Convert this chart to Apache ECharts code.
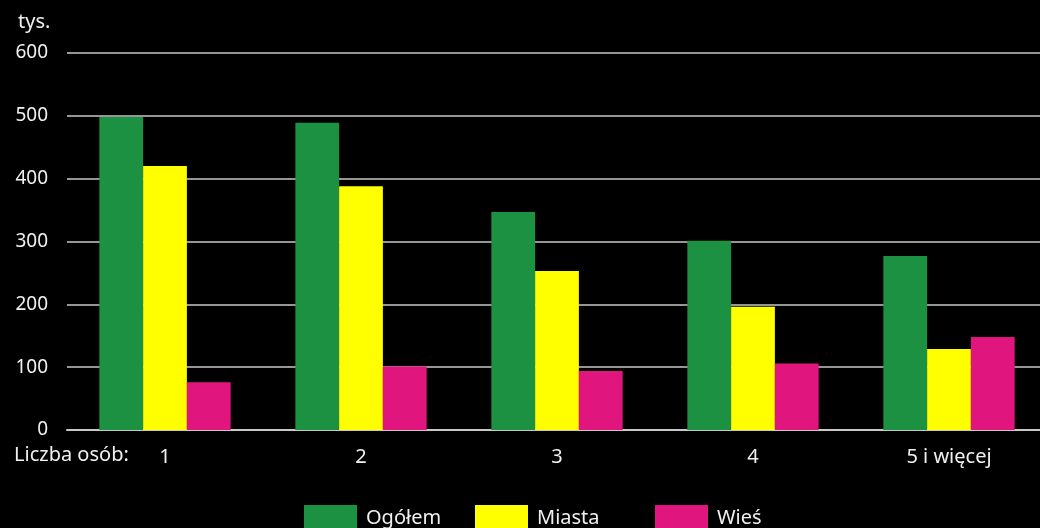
<!DOCTYPE html>
<html><head><meta charset="utf-8">
<script src="https://cdn.jsdelivr.net/npm/echarts@6/dist/echarts.min.js"></script>
<style>html,body{margin:0;padding:0;background:#000;}#c{width:1040px;height:528px;}</style>
</head><body><div id="c"></div>
<script>
const categories = ['1', '2', '3', '4', '5 i więcej'];
const ogolem = [498, 489, 347, 301, 277];
const miasta = [420, 388, 253, 196, 129];
const wies = [76, 101, 94, 106, 148];
const yTicks = [0, 100, 200, 300, 400, 500, 600];

const FONT = '"Noto Sans", "Open Sans", sans-serif';
const chart = echarts.init(document.getElementById('c'));
const legendBase = {
  top: 505, padding: 0, itemWidth: 53, itemHeight: 26, itemGap: 0, icon: 'rect',
  textStyle: { color: '#f0f0f0', fontSize: 20, fontFamily: FONT, padding: [3, 0, 0, 4] },
  selectedMode: false
};
chart.setOption({
  backgroundColor: '#000',
  animation: false,
  grid: { left: 67, top: 53, right: -7, height: 377, containLabel: false, outerBoundsMode: 'none' },
  graphic: [
    { type: 'text', left: 18, top: 12, style: { text: 'tys.', fill: '#f0f0f0', font: '20px ' + FONT } },
    { type: 'text', left: 14, top: 445, style: { text: 'Liczba osób:', fill: '#f0f0f0', font: '20px ' + FONT } }
  ],
  legend: [
    Object.assign({ left: 304, data: ['Ogółem'] }, legendBase),
    Object.assign({ left: 475, data: ['Miasta'] }, legendBase),
    Object.assign({ left: 655, data: ['Wieś'] }, legendBase)
  ],
  xAxis: {
    type: 'category', data: categories,
    axisLine: { show: true, lineStyle: { color: '#c8c8c8', width: 2 } },
    axisTick: { show: false },
    axisLabel: { color: '#f0f0f0', fontSize: 20, fontFamily: FONT, margin: 17 }
  },
  yAxis: {
    type: 'value', min: yTicks[0], max: yTicks[yTicks.length - 1], interval: 100,
    axisLine: { show: false }, axisTick: { show: false },
    axisLabel: { color: '#f0f0f0', fontSize: 19, fontFamily: FONT, margin: 19 },
    splitLine: { lineStyle: { color: '#c8c8c8', width: 1.5 } }
  },
  series: [
    { name: 'Ogółem', type: 'bar', data: ogolem, itemStyle: { color: '#1c9141' }, barGap: '0%', barCategoryGap: '33%' },
    { name: 'Miasta', type: 'bar', data: miasta, itemStyle: { color: '#ffff00' }, barGap: '0%', barCategoryGap: '33%' },
    { name: 'Wieś', type: 'bar', data: wies, itemStyle: { color: '#e0157d' }, barGap: '0%', barCategoryGap: '33%' }
  ]
});
</script></body></html>
